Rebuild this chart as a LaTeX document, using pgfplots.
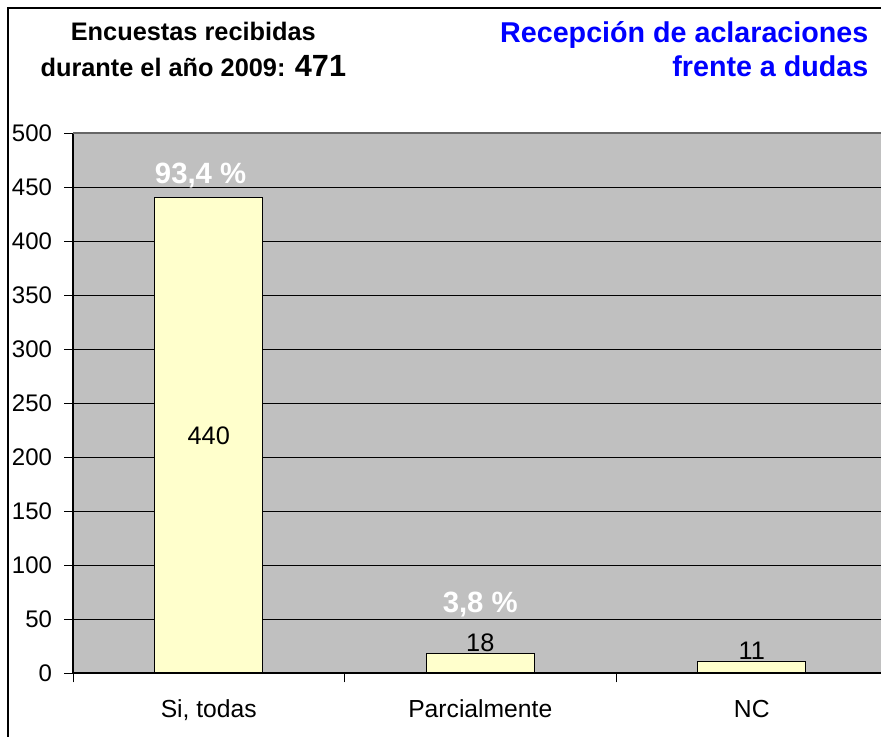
\documentclass[border=0pt]{standalone}
\usepackage{fontspec}
\setmainfont{Liberation Sans}
\usepackage{pgfplots}
\pgfplotsset{compat=1.18}
\definecolor{plotgray}{HTML}{C0C0C0}
\definecolor{barfill}{HTML}{FFFFCC}
\definecolor{titleblue}{HTML}{0000FF}
\begin{document}
\begin{tikzpicture}
  \useasboundingbox (0,0) rectangle (660.75pt,552.75pt);
  % outer frame (left and top only, the rest is cut off)
  \draw[line width=1.5pt] (6pt,0) -- (6pt,546.75pt) -- (660.75pt,546.75pt);

  \begin{axis}[
    at={(54.75pt,48pt)}, anchor=south west,
    scale only axis,
    width=606pt, height=405pt,
    xmin=-0.5, xmax=2.476,
    ymin=0, ymax=500,
    ytick={0,50,...,500},
    xtick={0,1,2},
    xticklabels={{Si, todas},Parcialmente,NC},
    minor xtick={-0.5,0.5,1.5},
    major x tick style={draw=none},
    minor x tick style={black, line width=0.6pt},
    minor tick length=7pt,
    major tick length=6.75pt,
    tick align=outside,
    tick pos=left,
    y tick style={black, line width=0.6pt},
    xticklabel style={font=\fontsize{18.5}{21}\selectfont, yshift=-10pt},
    yticklabel style={font=\fontsize{18}{21}\selectfont, xshift=-5.5pt},
    /pgf/number format/assume math mode=true,
    axis background/.style={fill=plotgray},
    axis x line*=bottom, axis y line*=left,
    axis line style={black, line width=0.8pt, -},
    ymajorgrids,
    grid style={black, line width=0.6pt},
    ybar, bar width=81pt,
    clip=false,
  ]
    \addplot[fill=barfill, draw=black, line width=0.8pt] coordinates {
      (0,440) (1,18) (2,11)
    };
    % top border of plot area
    \draw[color=gray!80!black, line width=1.5pt] (axis cs:-0.5,500) -- (axis cs:2.476,500);
    % value labels
    \node[font=\fontsize{19}{21}\selectfont] at (axis cs:0,220) {440};
    \node[font=\fontsize{19}{21}\selectfont, anchor=south, inner sep=1pt] at (axis cs:1,18) {18};
    \node[font=\fontsize{19}{21}\selectfont, anchor=south, inner sep=1pt] at (axis cs:2,11) {11};
    % percentage labels
    \node[font=\bfseries\fontsize{22}{24}\selectfont, text=white] at (axis cs:-0.03,461) {93,4 \%};
    \node[font=\bfseries\fontsize{22}{24}\selectfont, text=white] at (axis cs:1,63) {3,8 \%};
  \end{axis}

  % titles
  \node[font=\bfseries\fontsize{19}{22}\selectfont, anchor=base] at (145pt,522pt) {Encuestas recibidas};
  \node[font=\bfseries\fontsize{19}{22}\selectfont, anchor=base] at (145pt,495pt)
    {durante el año 2009: {\fontsize{23}{26}\selectfont 471}};
  \node[font=\bfseries\fontsize{21.5}{24}\selectfont, text=titleblue, anchor=base east] at (654.75pt,520.5pt) {Recepción de aclaraciones};
  \node[font=\bfseries\fontsize{21.5}{24}\selectfont, text=titleblue, anchor=base east] at (654.75pt,495pt) {frente a dudas};
\end{tikzpicture}
\end{document}
